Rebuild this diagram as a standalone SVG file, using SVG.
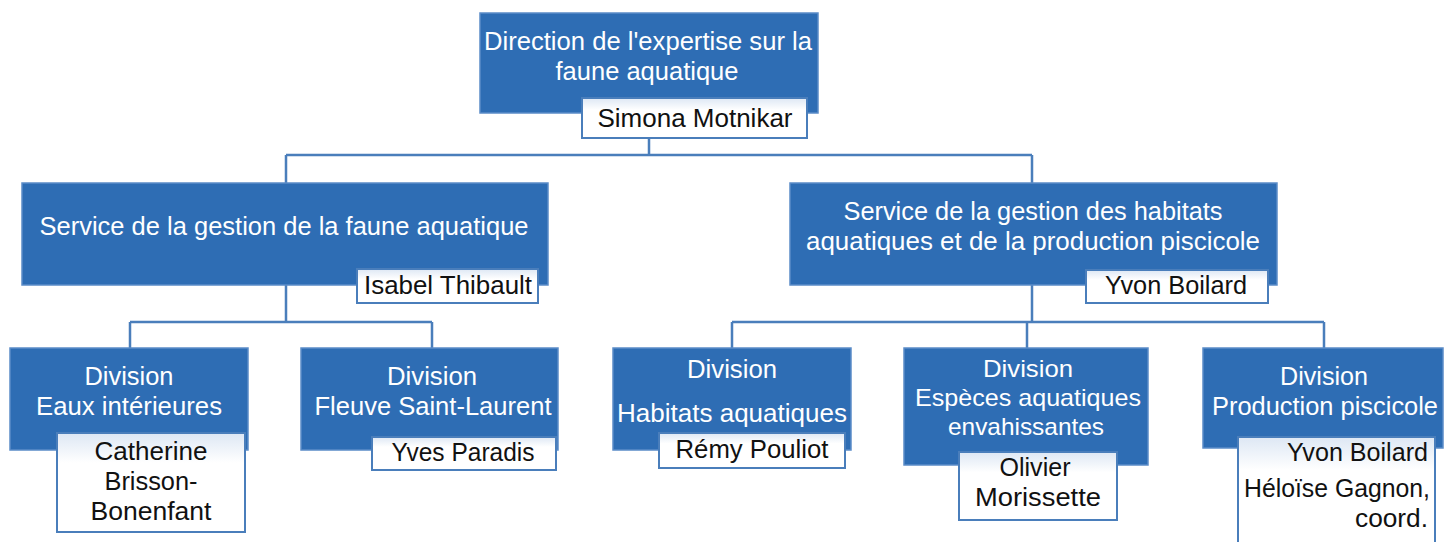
<svg xmlns="http://www.w3.org/2000/svg" width="1444" height="542" viewBox="0 0 1444 542">
<defs>
<linearGradient id="ng" x1="0" y1="0" x2="0" y2="1">
<stop offset="0" stop-color="#dde7f4"/>
<stop offset="0.3" stop-color="#ffffff"/>
<stop offset="1" stop-color="#ffffff"/>
</linearGradient>
<style>
.box{fill:#2e6db4;stroke:#5b8cc8;stroke-width:1.5}
.name{fill:url(#ng);stroke:#4a7ebb;stroke-width:2}
.t{font-family:"Liberation Sans",Arial,sans-serif;font-size:25px;fill:#ffffff;text-anchor:middle}
.n{font-family:"Liberation Sans",Arial,sans-serif;font-size:25px;fill:#111111;text-anchor:middle}
.s{font-size:24px}
.r{text-anchor:end}
.c{stroke:#4a7ebb;stroke-width:2.5;fill:none}
</style>
</defs>
<rect width="1444" height="542" fill="#ffffff"/>
<g id="connectors">
<path class="c" d="M649 113 V155 M286 155 H1032 M286 155 V183 M1032 155 V183"/>
<path class="c" d="M286 285 V322 M130 322 H432 M130 322 V348 M432 322 V348"/>
<path class="c" d="M1032 285 V322 M732 322 H1324 M732 322 V348 M1027 322 V348 M1324 322 V348"/>
</g>
<g id="direction">
<rect class="box" x="480" y="13" width="338" height="100"/>
<text class="t" x="648" y="50" textLength="328" lengthAdjust="spacingAndGlyphs">Direction de l'expertise sur la</text>
<text class="t" x="647" y="80" textLength="183" lengthAdjust="spacingAndGlyphs">faune aquatique</text>
<rect class="name" x="582" y="98" width="225" height="40"/>
<text class="n" x="695" y="127" textLength="195" lengthAdjust="spacingAndGlyphs">Simona Motnikar</text>
</g>
<g id="service-faune">
<rect class="box" x="22" y="183" width="526" height="102"/>
<text class="t" x="284" y="235" textLength="489" lengthAdjust="spacingAndGlyphs">Service de la gestion de la faune aquatique</text>
<rect class="name" x="357" y="269" width="181" height="34"/>
<text class="n" x="448" y="294" textLength="168" lengthAdjust="spacingAndGlyphs">Isabel Thibault</text>
</g>
<g id="service-habitats">
<rect class="box" x="790" y="183" width="487" height="102"/>
<text class="t" x="1033" y="220" textLength="379" lengthAdjust="spacingAndGlyphs">Service de la gestion des habitats</text>
<text class="t" x="1033" y="250" textLength="454" lengthAdjust="spacingAndGlyphs">aquatiques et de la production piscicole</text>
<rect class="name" x="1086" y="270" width="182" height="33"/>
<text class="n" x="1176" y="294" textLength="142" lengthAdjust="spacingAndGlyphs">Yvon Boilard</text>
</g>
<g id="div-eaux">
<rect class="box" x="10" y="348" width="238" height="102"/>
<text class="t" x="129" y="385" textLength="89" lengthAdjust="spacingAndGlyphs">Division</text>
<text class="t" x="129" y="415" textLength="186" lengthAdjust="spacingAndGlyphs">Eaux intérieures</text>
<rect class="name" x="57" y="433" width="188" height="99"/>
<text class="n" x="151" y="460" textLength="113" lengthAdjust="spacingAndGlyphs">Catherine</text>
<text class="n" x="151" y="490" textLength="93" lengthAdjust="spacingAndGlyphs">Brisson-</text>
<text class="n" x="151" y="520" textLength="121" lengthAdjust="spacingAndGlyphs">Bonenfant</text>
</g>
<g id="div-fleuve">
<rect class="box" x="301" y="348" width="257" height="102"/>
<text class="t" x="432" y="385" textLength="90" lengthAdjust="spacingAndGlyphs">Division</text>
<text class="t" x="433" y="415" textLength="237" lengthAdjust="spacingAndGlyphs">Fleuve Saint-Laurent</text>
<rect class="name" x="372" y="437" width="184" height="33"/>
<text class="n" x="463" y="461" textLength="143" lengthAdjust="spacingAndGlyphs">Yves Paradis</text>
</g>
<g id="div-habitats">
<rect class="box" x="613" y="348" width="238" height="102"/>
<text class="t" x="732" y="378" textLength="90" lengthAdjust="spacingAndGlyphs">Division</text>
<text class="t" x="732" y="422" textLength="230" lengthAdjust="spacingAndGlyphs">Habitats aquatiques</text>
<rect class="name" x="659" y="433" width="186" height="35"/>
<text class="n" x="752" y="458" textLength="153" lengthAdjust="spacingAndGlyphs">Rémy Pouliot</text>
</g>
<g id="div-especes">
<rect class="box" x="904" y="348" width="244" height="117"/>
<text class="t s" x="1028" y="377" textLength="90" lengthAdjust="spacingAndGlyphs">Division</text>
<text class="t s" x="1028" y="406" textLength="226" lengthAdjust="spacingAndGlyphs">Espèces aquatiques</text>
<text class="t s" x="1026" y="435" textLength="156" lengthAdjust="spacingAndGlyphs">envahissantes</text>
<rect class="name" x="959" y="452" width="158" height="68"/>
<text class="n" x="1035" y="476" textLength="71" lengthAdjust="spacingAndGlyphs">Olivier</text>
<text class="n" x="1038" y="506" textLength="126" lengthAdjust="spacingAndGlyphs">Morissette</text>
</g>
<g id="div-production">
<rect class="box" x="1203" y="348" width="240" height="100"/>
<text class="t" x="1324" y="385" textLength="88" lengthAdjust="spacingAndGlyphs">Division</text>
<text class="t" x="1325" y="415" textLength="226" lengthAdjust="spacingAndGlyphs">Production piscicole</text>
<rect class="name" x="1238" y="437" width="197" height="110"/>
<text class="n r" x="1428" y="461" textLength="141" lengthAdjust="spacingAndGlyphs">Yvon Boilard</text>
<text class="n r" x="1430" y="497" textLength="186" lengthAdjust="spacingAndGlyphs">Héloïse Gagnon,</text>
<text class="n r" x="1428" y="527" textLength="73" lengthAdjust="spacingAndGlyphs">coord.</text>
</g>
</svg>
